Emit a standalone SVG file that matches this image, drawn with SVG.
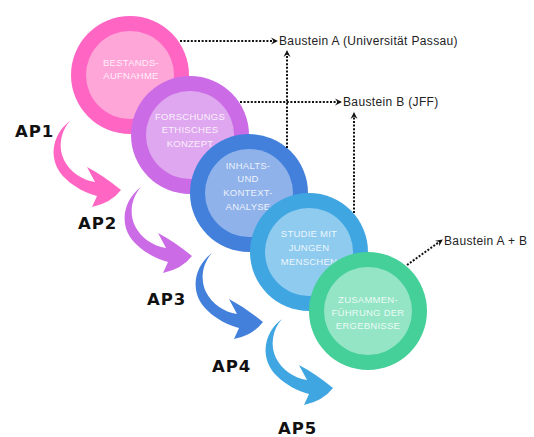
<svg xmlns="http://www.w3.org/2000/svg" width="534" height="437" viewBox="0 0 534 437">
<style>
.ct{font-family:"Liberation Sans",Arial,sans-serif;font-size:9.5px;fill:#fff;fill-opacity:0.85;text-anchor:middle;letter-spacing:0.25px}
.ap{font-family:"DejaVu Sans","Liberation Sans",sans-serif;font-weight:bold;font-size:16.5px;fill:#111;letter-spacing:1px}
.lb{font-family:"Liberation Sans",Arial,sans-serif;font-size:12px;fill:#222;letter-spacing:0.35px}
.dot{fill:none;stroke:#111;stroke-width:2;stroke-dasharray:2 1.6;marker-end:url(#ah)}
</style>
<defs>
<marker id="ah" viewBox="0 0 8 8" refX="6" refY="4" markerWidth="8" markerHeight="8" markerUnits="userSpaceOnUse" orient="auto">
<path d="M0,0.5 L7,4 L0,7.5 L2.5,4 Z" fill="#111"/>
</marker>
<path id="carrow" d="M70 121 C51 135,47 162,66 179 C74 187,86 193,97 196 L92 207 Q111 203,121 190 Q104 176,87 167 L95 182 C82 180,70 172,64 160 C58 148,60 132,70 121 Z"/>
</defs>
<g id="arrows">
<use href="#carrow" fill="#ff66c4"/>
<use href="#carrow" fill="#cb6ce6" transform="translate(71,66)"/>
<use href="#carrow" fill="#4380dc" transform="translate(142,132)"/>
<use href="#carrow" fill="#3fa6e2" transform="translate(212,198)"/>
</g>
<g id="labels-ap">
<text class="ap" x="15" y="137">AP1</text>
<text class="ap" x="78" y="229">AP2</text>
<text class="ap" x="147" y="305">AP3</text>
<text class="ap" x="212" y="372">AP4</text>
<text class="ap" x="278" y="434">AP5</text>
</g>
<g id="n1">
<circle cx="130" cy="75" r="59" fill="#ff66c4"/>
<circle cx="130" cy="75" r="44" fill="#ffa6d9"/>
<text class="ct" x="131" y="65.5">BESTANDS-</text>
<text class="ct" x="131" y="78.5">AUFNAHME</text>
</g>
<g id="n2">
<circle cx="190" cy="135" r="59" fill="#cb6ce6"/>
<circle cx="190" cy="135" r="44" fill="#dfa7f0"/>
<text class="ct" x="190" y="119.5">FORSCHUNGS</text>
<text class="ct" x="190" y="133">ETHISCHES</text>
<text class="ct" x="190" y="146.5">KONZEPT</text>
</g>
<g id="n3">
<circle cx="249" cy="193" r="59" fill="#4380dc"/>
<circle cx="249" cy="193" r="44" fill="#8fb2ea"/>
<text class="ct" x="248" y="168.5">INHALTS-</text>
<text class="ct" x="248" y="182">UND</text>
<text class="ct" x="248" y="195.5">KONTEXT-</text>
<text class="ct" x="248" y="209.5">ANALYSE</text>
</g>
<g id="n4">
<circle cx="309" cy="252" r="59" fill="#3fa6e2"/>
<circle cx="309" cy="252" r="44" fill="#8fcbef"/>
<text class="ct" x="309" y="236.5">STUDIE MIT</text>
<text class="ct" x="309" y="251">JUNGEN</text>
<text class="ct" x="309" y="264.5">MENSCHEN</text>
</g>
<g id="n5">
<circle cx="368" cy="311" r="59" fill="#45cf99"/>
<circle cx="368" cy="311" r="44" fill="#93e5c6"/>
<text class="ct" x="368" y="302.5">ZUSAMMEN-</text>
<text class="ct" x="368" y="315.5">FÜHRUNG DER</text>
<text class="ct" x="368" y="328.5">ERGEBNISSE</text>
</g>
<g id="connectors">
<path class="dot" d="M180 41 H277"/>
<path class="dot" d="M287 148 V51"/>
<path class="dot" d="M240 102 H341"/>
<path class="dot" d="M354 213 V113"/>
<path class="dot" d="M407 265 L442 240"/>
</g>
<g id="targets">
<text class="lb" x="279" y="45">Baustein A (Universität Passau)</text>
<text class="lb" x="343" y="106">Baustein B (JFF)</text>
<text class="lb" x="444" y="245">Baustein A + B</text>
</g>
</svg>
